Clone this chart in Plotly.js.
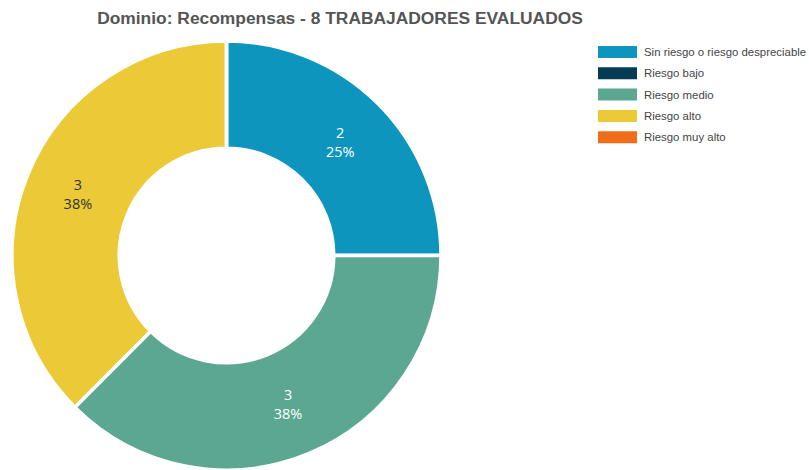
<!DOCTYPE html>
<html>
<head>
<meta charset="utf-8">
<script src="https://cdn.plot.ly/plotly-3.0.1.min.js"></script>
<style>html,body{margin:0;padding:0;background:#fff;}#chart{width:809px;height:470px;}</style>
</head>
<body>
<div id="chart"></div>
<script>
const categories = ["Sin riesgo o riesgo despreciable", "Riesgo bajo", "Riesgo medio", "Riesgo alto", "Riesgo muy alto"];
const values = [2, 0, 3, 3, 0];
const colors = ["#0e95bd", "#063b54", "#5ba792", "#ebc937", "#f06e19"];
const textColors = ["#ffffff", "#ffffff", "#ffffff", "#333333", "#ffffff"];
const chartTitle = "Dominio: Recompensas - 8 TRABAJADORES EVALUADOS";

const W = 809, H = 470;
const px = x => x / W;
const py = y => 1 - y / H;

// custom legend (rectangular swatches)
const shapes = [];
const annotations = [];
categories.forEach((c, i) => {
  const cy = 52 + i * 21.3;
  shapes.push({type: "rect", xref: "paper", yref: "paper",
    x0: px(598), x1: px(637), y0: py(cy - 6), y1: py(cy + 6),
    fillcolor: colors[i], line: {width: 0}});
  annotations.push({xref: "paper", yref: "paper", x: px(642), y: py(cy),
    xanchor: "left", yanchor: "middle", showarrow: false, text: c,
    font: {family: "Arial, Liberation Sans, sans-serif", size: 11.4, color: "#444444"}});
});

const trace = {
  type: "pie",
  labels: categories,
  values: values,
  hole: 0.5,
  sort: false,
  direction: "clockwise",
  rotation: 0,
  marker: {colors: colors, line: {color: "#ffffff", width: 3.5}},
  texttemplate: "%{value}<br>%{percent:.0%}",
  textposition: "inside",
  insidetextorientation: "horizontal",
  textfont: {family: "Open Sans, sans-serif", size: 14.5, color: textColors},
  domain: {x: [px(11), px(442)], y: [0, py(41)]},
  showlegend: false,
  hoverinfo: "label+value+percent"
};

const layout = {
  width: W, height: H,
  margin: {l: 0, r: 0, t: 0, b: 0},
  paper_bgcolor: "#ffffff",
  title: {text: "<b>" + chartTitle + "</b>", x: 340 / W, xanchor: "center", y: 1 - 18 / H, yanchor: "middle",
    font: {family: "Arial, Liberation Sans, sans-serif", size: 17.4, color: "#555555"}},
  shapes: shapes,
  annotations: annotations,
  showlegend: false
};

Plotly.newPlot("chart", [trace], layout, {displayModeBar: false});
</script>
</body>
</html>
